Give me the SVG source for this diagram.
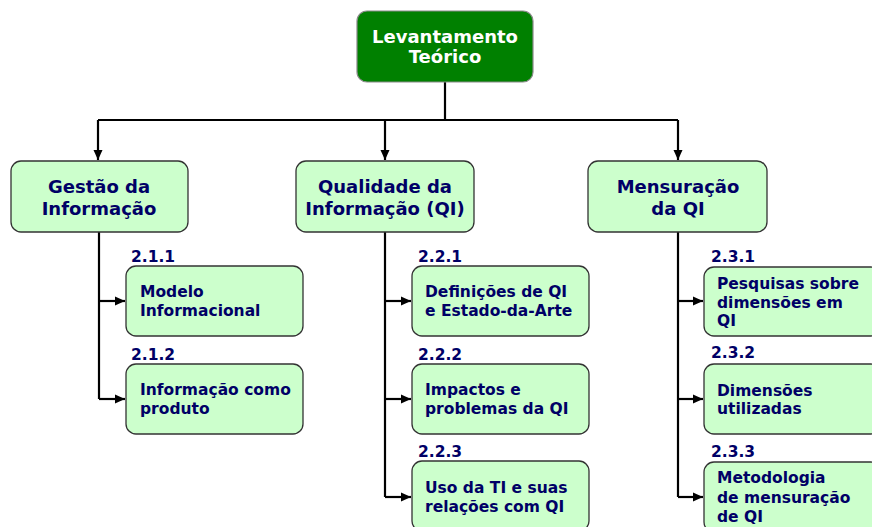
<svg xmlns="http://www.w3.org/2000/svg" width="872" height="527" viewBox="0 0 872 527">
<defs>
<marker id="ah" markerWidth="12" markerHeight="12" refX="10" refY="6" orient="auto" markerUnits="userSpaceOnUse">
<path d="M0,1.5 L10,6 L0,10.5 Z" fill="#000"/>
</marker>
<style>
.root{fill:#008000;stroke:#8a8a8a;stroke-width:1.2}
.box{fill:#ccffcc;stroke:#333;stroke-width:1.3}
.t{font-family:"DejaVu Sans",Verdana,sans-serif;font-weight:bold}
.rt{fill:#fff;font-size:18px;text-anchor:middle}
.ht{fill:#000066;font-size:18px;text-anchor:middle}
.ct{fill:#000066;font-size:15.5px}
.lb{fill:#000066;font-size:15.5px}
.c{fill:none;stroke:#000;stroke-width:2.2}
</style>
</defs>
<rect width="872" height="527" fill="#fff"/>
<g id="connectors">
<path class="c" d="M445,82 V120 M98,120 H678"/>
<path class="c" d="M98,120 V160" marker-end="url(#ah)"/>
<path class="c" d="M385,120 V160" marker-end="url(#ah)"/>
<path class="c" d="M678,120 V160" marker-end="url(#ah)"/>
<path class="c" d="M99,232 V399"/>
<path class="c" d="M99,301 H125" marker-end="url(#ah)"/>
<path class="c" d="M99,399 H125" marker-end="url(#ah)"/>
<path class="c" d="M385,232 V497"/>
<path class="c" d="M385,301 H411" marker-end="url(#ah)"/>
<path class="c" d="M385,399 H411" marker-end="url(#ah)"/>
<path class="c" d="M385,497 H411" marker-end="url(#ah)"/>
<path class="c" d="M678,232 V497"/>
<path class="c" d="M678,301 H703" marker-end="url(#ah)"/>
<path class="c" d="M678,399 H703" marker-end="url(#ah)"/>
<path class="c" d="M678,497 H703" marker-end="url(#ah)"/>
</g>
<g id="root">
<rect class="root" x="357" y="11" width="176" height="71" rx="10"/>
<text class="t rt" x="445" y="43">Levantamento</text>
<text class="t rt" x="445" y="63">Teórico</text>
</g>
<g id="gestao">
<rect class="box" x="11" y="161" width="177" height="71" rx="10"/>
<text class="t ht" x="99" y="193">Gestão da</text>
<text class="t ht" x="99" y="215">Informação</text>
</g>
<g id="qualidade">
<rect class="box" x="296" y="161" width="178" height="71" rx="10"/>
<text class="t ht" x="385" y="193">Qualidade da</text>
<text class="t ht" x="385" y="215">Informação (QI)</text>
</g>
<g id="mensuracao">
<rect class="box" x="588" y="161" width="179" height="71" rx="10"/>
<text class="t ht" x="678" y="193">Mensuração</text>
<text class="t ht" x="678" y="215">da QI</text>
</g>
<g id="n211">
<text class="t lb" x="131" y="262">2.1.1</text>
<rect class="box" x="126" y="266" width="177" height="70" rx="10"/>
<text class="t ct" x="140" y="297">Modelo</text>
<text class="t ct" x="140" y="316">Informacional</text>
</g>
<g id="n212">
<text class="t lb" x="131" y="360">2.1.2</text>
<rect class="box" x="126" y="364" width="177" height="70" rx="10"/>
<text class="t ct" x="140" y="395">Informação como</text>
<text class="t ct" x="140" y="414">produto</text>
</g>
<g id="n221">
<text class="t lb" x="418" y="262">2.2.1</text>
<rect class="box" x="412" y="266" width="177" height="70" rx="10"/>
<text class="t ct" x="425" y="297">Definições de QI</text>
<text class="t ct" x="425" y="316">e Estado-da-Arte</text>
</g>
<g id="n222">
<text class="t lb" x="418" y="360">2.2.2</text>
<rect class="box" x="412" y="364" width="177" height="70" rx="10"/>
<text class="t ct" x="425" y="395">Impactos e</text>
<text class="t ct" x="425" y="414">problemas da QI</text>
</g>
<g id="n223">
<text class="t lb" x="418" y="457">2.2.3</text>
<rect class="box" x="412" y="461" width="177" height="70" rx="10"/>
<text class="t ct" x="425" y="493">Uso da TI e suas</text>
<text class="t ct" x="425" y="512">relações com QI</text>
</g>
<g id="n231">
<text class="t lb" x="711" y="262">2.3.1</text>
<rect class="box" x="704" y="267" width="177" height="69" rx="10"/>
<text class="t ct" x="717" y="289">Pesquisas sobre</text>
<text class="t ct" x="717" y="307.5">dimensões em</text>
<text class="t ct" x="717" y="326">QI</text>
</g>
<g id="n232">
<text class="t lb" x="711" y="358">2.3.2</text>
<rect class="box" x="704" y="364" width="177" height="70" rx="10"/>
<text class="t ct" x="717" y="396">Dimensões</text>
<text class="t ct" x="717" y="414">utilizadas</text>
</g>
<g id="n233">
<text class="t lb" x="711" y="457">2.3.3</text>
<rect class="box" x="704" y="462" width="177" height="70" rx="10"/>
<text class="t ct" x="717" y="483">Metodologia</text>
<text class="t ct" x="717" y="503">de mensuração</text>
<text class="t ct" x="717" y="522">de QI</text>
</g>
</svg>
